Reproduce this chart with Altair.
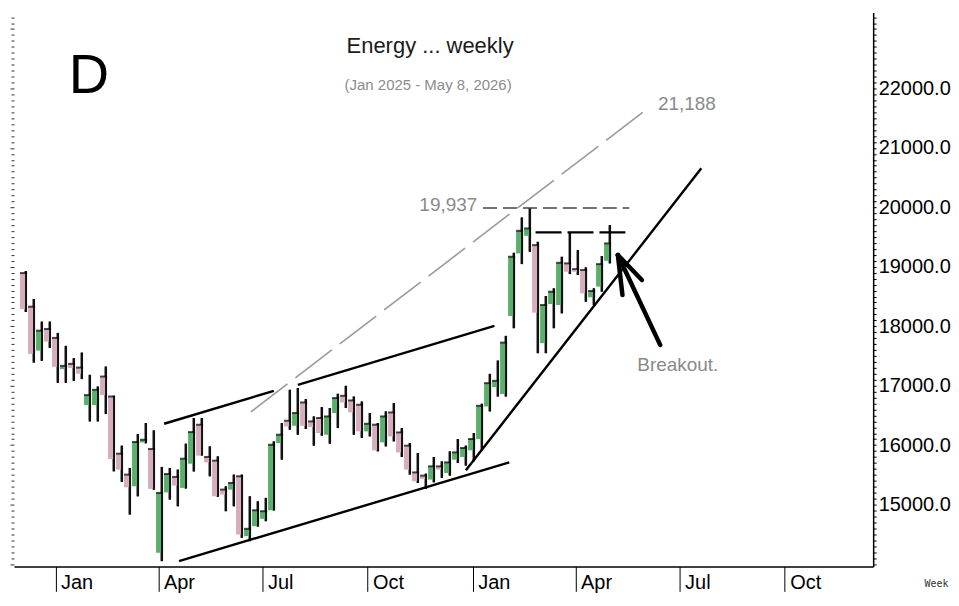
import altair as alt
import pandas as pd

# ---------------- data ----------------
first_week = "2024-12-04"
opens = [18895, 18329, 17591, 17955, 17804, 17278, 17367, 17305, 16674, 16674,
         17154, 16818, 15856, 15504, 15307, 16046, 15935, 14189, 15205, 15465,
         15280, 15688, 16343, 15801, 15739, 15252, 15252, 15476, 14468, 14636,
         14760, 14904, 16036, 16410, 16326, 16718, 16399, 16456, 16175, 16540,
         16830, 16752, 16679, 16231, 16343, 16046, 16550, 16214, 15991, 15541,
         15487, 15420, 15643, 15532, 15756, 15801, 15912, 16103, 16650, 16976,
         16859, 18173, 19226, 19522, 19365, 17715, 18375, 18358, 19058, 18962,
         18946, 18487, 18668, 19102]
highs = [18929, 18459, 18078, 18078, 17888, 17670, 17463, 17557, 17183, 16986,
         17322, 16830, 15991, 15616, 16187, 16372, 16248, 15633, 15616, 15588,
         16024, 16456, 16456, 15979, 15811, 15307, 15504, 15504, 15139, 15055,
         15112, 16063, 16372, 16931, 16960, 16775, 16483, 16640, 16624, 16864,
         16998, 16818, 16734, 16540, 16372, 16567, 16707, 16287, 16036, 15868,
         15520, 15801, 15727, 15895, 16103, 15991, 16204, 16696, 17199, 17423,
         17838, 19236, 19830, 19990, 19421, 18509, 18638, 19169, 19573, 19281,
         18991, 18638, 19181, 19701]
lows = [18240, 17389, 17418, 17636, 17048, 17048, 17082, 17111, 16399, 16399,
        16523, 15559, 15381, 14832, 15139, 16030, 15250, 14048, 15084, 14971,
        15270, 15557, 15823, 15476, 15130, 14888, 14971, 14441, 14384, 14630,
        14720, 14900, 15756, 16259, 16175, 16271, 15991, 16159, 16024, 16287,
        16624, 16175, 16120, 16147, 15895, 15979, 16063, 15801, 15504, 15364,
        15264, 15374, 15448, 15487, 15700, 15655, 15727, 15912, 16567, 16818,
        16818, 17967, 19046, 19253, 17547, 17547, 17967, 18217, 18878, 18862,
        18413, 18358, 18581, 19058]
closes = [18291, 17535, 17926, 17742, 17317, 17334, 17300, 17200, 16842, 16931,
          16842, 15767, 15588, 15290, 16053, 16091, 15264, 15196, 15514, 15319,
          15772, 16220, 15823, 15710, 15139, 15168, 15364, 14496, 14592, 14904,
          14888, 16007, 16175, 16315, 16540, 16326, 16305, 16204, 16483, 16792,
          16718, 16550, 16231, 16360, 15912, 16483, 16147, 15878, 15588, 15391,
          15432, 15643, 15588, 15710, 15878, 15952, 16103, 16662, 17043, 17082,
          17725, 19169, 19606, 19646, 18229, 18358, 18581, 19068, 18917, 18917,
          18554, 18593, 19046, 19394]

# trend / annotation lines: (start date, start value, end date, end value)
gray_diag = [("2025-06-21", 16561, "2026-06-01", 21632)]
gray_level = [("2026-01-10", 19990, "2026-05-18", 19990)]
black_level = [("2026-02-25", 19579, "2026-05-16", 19579)]
channel_lines = [("2025-04-06", 16360, "2025-07-11", 16914),
                 ("2025-08-01", 17015, "2026-01-20", 18005),
                 ("2025-04-19", 14048, "2026-02-02", 15710),
                 ("2025-12-26", 15576, "2026-07-20", 20658)]
arrow_lines = [("2026-05-08", 19198, "2026-06-14", 17686),
               ("2026-05-08", 19198, "2026-05-12", 18526),
               ("2026-05-08", 19198, "2026-05-29", 18778)]

labels_right = [("2026-06-12", 21733, "21,188"), ("2026-05-25", 17351, "Breakout.")]
labels_left = [("2026-01-05", 20037, "19,937")]

title_text = "Energy ... weekly"
subtitle_text = "(Jan 2025 - May 8, 2026)"
panel_letter = "D"

month_ticks = [(2025, 1), (2025, 4), (2025, 7), (2025, 10),
               (2026, 1), (2026, 4), (2026, 7), (2026, 10)]

# ---------------- build tables ----------------
dates = pd.date_range(first_week, periods=len(opens), freq="7D").strftime("%Y-%m-%d")
df = pd.DataFrame({"date": dates, "open": opens, "high": highs,
                   "low": lows, "close": closes})
df["top"] = df[["open", "close"]].max(axis=1)


def seg_df(rows):
    return pd.DataFrame(rows, columns=["date", "value", "date2", "value2"])


GREEN = "#5cae6c"
PINK = "#d6adbd"
FONT = "Liberation Sans"

x_scale = alt.Scale(type="utc", domain=[alt.DateTime(year=2024, month=11, date=30, utc=True),
                                       alt.DateTime(year=2026, month=12, date=13, utc=True)])
y_scale = alt.Scale(domain=[13959, 23277], zero=False, nice=False)
y_ticks = list(range(14000, 23201, 100))
is_label = "(datum.value % 1000 === 0 && datum.value >= 15000 && datum.value <= 22000)"

x_axis = alt.Axis(
    values=[alt.DateTime(year=y, month=m, date=1, utc=True) for y, m in month_ticks],
    labelExpr="utcFormat(datum.value, '%b')",
    tickSize=25, tickColor="black", tickWidth=1,
    domainColor="black", domainWidth=1.5,
    labelAlign="left", labelBaseline="middle", labelOffset=5, labelPadding=-9,
    labelFont=FONT, labelFontSize=20, labelColor="black", labelFlush=False,
    labelOverlap=False, grid=False,
    title="Week", titleFont="DejaVu Sans Mono", titleFontSize=10,
    titleFontWeight="normal", titleColor="#333333", titleAngle=0,
    titleAlign="left", titleBaseline="middle", titleX=912, titleY=17,
)


def X(field="date"):
    return alt.X(f"{field}:T", scale=x_scale, axis=x_axis)


right_axis = alt.Axis(
    orient="right", values=y_ticks, labelOverlap=False,
    labelExpr=f"{is_label} ? format(datum.value, '.1f') : ''",
    labelFontSize={"condition": {"test": is_label, "value": 20}, "value": 0},
    tickSize=3,
    tickColor="black", domainColor="black", domainWidth=1.5,
    labelFont=FONT, labelColor="black", labelPadding=2,
    title=None, grid=False,
)
left_axis = alt.Axis(
    orient="left", values=y_ticks, labels=False, domain=False,
    tickSize={"condition": {"test": "datum.value % 1000 === 0", "value": 4}, "value": 3},
    tickColor="#333333", title=None, grid=False,
)

base = alt.Chart(df)

wick_left = base.mark_rule(color="black", strokeWidth=2, xOffset=2).encode(
    x=X(), y=alt.Y("low:Q", scale=y_scale, axis=left_axis), y2="high:Q")

body = base.mark_bar(size=7).encode(
    x=X(),
    y=alt.Y("open:Q", scale=y_scale, axis=right_axis),
    y2="close:Q",
    color=alt.condition("datum.close >= datum.open", alt.value(GREEN), alt.value(PINK)),
)

wick = base.mark_rule(color="#111111", strokeWidth=2, xOffset=2.5).encode(
    x=X(), y=alt.Y("low:Q", scale=y_scale, axis=None), y2="high:Q")

cap = base.mark_tick(orient="horizontal", size=7, thickness=2, color="black").encode(
    x=X(), y=alt.Y("top:Q", scale=y_scale, axis=None))


def seg_layer(rows, **mark):
    return alt.Chart(seg_df(rows)).mark_rule(**mark).encode(
        x=X(), x2="date2:T",
        y=alt.Y("value:Q", scale=y_scale, axis=None), y2="value2:Q")


l_diag = seg_layer(gray_diag, color="#9a9a9a", strokeWidth=1.6, strokeDash=[46, 10])
l_glevel = seg_layer(gray_level, color="#444444", strokeWidth=1.3, strokeDash=[14, 6])
l_blevel = seg_layer(black_level, color="black", strokeWidth=2.4, strokeDash=[26, 6])
l_chan = seg_layer(channel_lines, color="black", strokeWidth=2.4)
l_arrow = seg_layer(arrow_lines, color="black", strokeWidth=4.5, strokeCap="round")


def text_layer(rows, align):
    d = pd.DataFrame(rows, columns=["date", "value", "label"])
    return alt.Chart(d).mark_text(align=align, baseline="middle", font=FONT,
                                  fontSize=19, color="#8a8a8a").encode(
        x=X(), y=alt.Y("value:Q", scale=y_scale, axis=None), text="label:N")


t_right = text_layer(labels_right, "left")
t_left = text_layer(labels_left, "right")

t_d = alt.Chart(pd.DataFrame({"t": [panel_letter]})).mark_text(
    font=FONT, fontSize=56, color="black", align="center", baseline="middle").encode(
    x=alt.value(75), y=alt.value(64), text="t:N")
t_title = alt.Chart(pd.DataFrame({"t": [title_text]})).mark_text(
    font=FONT, fontSize=22, color="#1a1a1a", align="center", baseline="middle").encode(
    x=alt.value(417), y=alt.value(33), text="t:N")
t_sub = alt.Chart(pd.DataFrame({"t": [subtitle_text]})).mark_text(
    font=FONT, fontSize=15, color="#8c8c8c", align="center", baseline="middle").encode(
    x=alt.value(415), y=alt.value(73), text="t:N")

chart = alt.layer(
    wick_left, body, wick, cap,
    l_diag, l_glevel, l_blevel, l_chan, l_arrow,
    t_right, t_left, t_d, t_title, t_sub,
).resolve_scale(y="shared").resolve_axis(y="independent").properties(
    width=861, height=555,
    padding={"left": 1, "top": 4, "right": 0, "bottom": 0},
).configure_view(stroke=None)

chart.save("out.html", embed_options={"renderer": "svg", "actions": False})
